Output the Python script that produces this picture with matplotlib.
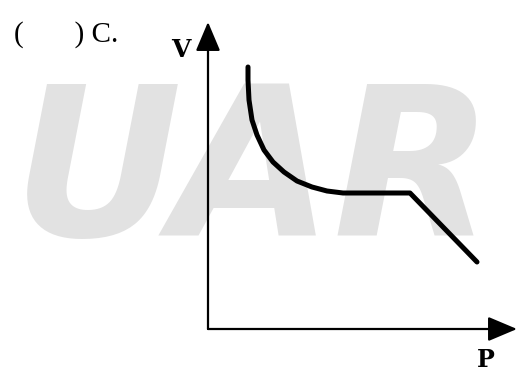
import matplotlib.pyplot as plt
import numpy as np

# curve (P, V), arbitrary units
P = [1.60, 1.60, 1.64, 1.76, 1.96, 2.24, 2.60, 3.04, 3.56, 4.16, 4.76, 5.40, 8.08, 10.76]
V = [10.48, 9.96, 9.16, 8.36, 7.76, 7.16, 6.68, 6.28, 5.92, 5.68, 5.52, 5.44, 5.44, 2.68]

p_max = 12.36
v_max = 12.28

fig = plt.figure(figsize=(5.17, 3.71), dpi=100)
ax = fig.add_axes([0, 0, 1, 1])
ax.set_xlim(-8.32, 12.36)
ax.set_ylim(-1.68, 13.16)
ax.axis('off')

# faded watermark in the background
ax.text(0.49, 0.52, 'UAR', fontsize=150, fontweight='bold', style='italic',
        color='#e2e2e2', ha='center', va='center', zorder=0, family='DejaVu Sans',
        transform=fig.transFigure)

# axes with arrows
arrow = dict(arrowstyle='-|>,head_length=0.9,head_width=0.38', lw=1.6,
             color='black', shrinkA=0, shrinkB=0, mutation_scale=20)
ax.annotate('', xy=(p_max, 0), xytext=(0, 0), arrowprops=arrow, zorder=2)
ax.annotate('', xy=(0, v_max), xytext=(0, 0), arrowprops=arrow, zorder=2)

ax.plot(P, V, color='black', lw=3.6, solid_joinstyle='round', solid_capstyle='round', zorder=3)

fig.text(181 / 517, 1 - 50 / 371, 'V', fontsize=18, fontweight='bold', family='DejaVu Serif',
         ha='center', va='center')
fig.text(486 / 517, 1 - 360 / 371, 'P', fontsize=17, fontweight='bold', family='DejaVu Serif',
         ha='center', va='center')
fig.text(14 / 517, 1 - 35 / 371, '(       ) C.', fontsize=21, family='Liberation Serif',
         ha='left', va='center')

fig.savefig('out.png', dpi=100, facecolor='white')
